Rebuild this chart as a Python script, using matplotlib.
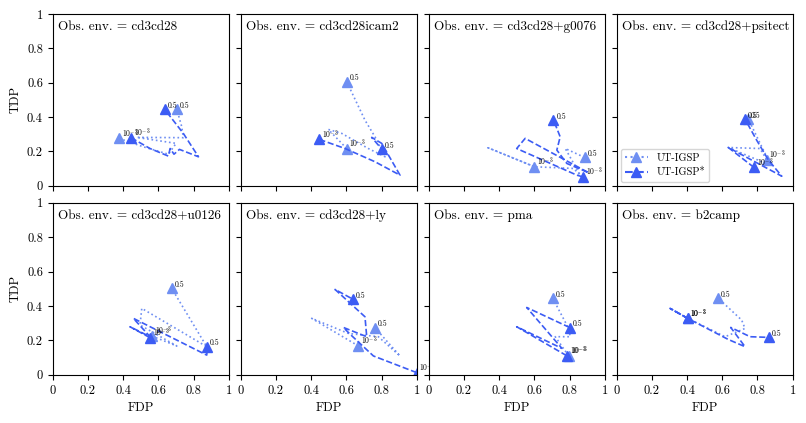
import matplotlib.pyplot as plt
import numpy as np

plt.rcParams['font.family'] = 'serif'
plt.rcParams['font.serif'] = ['cmr10', 'DejaVu Serif']
plt.rcParams['mathtext.fontset'] = 'cm'
plt.rcParams['axes.unicode_minus'] = False
plt.rcParams['axes.formatter.use_mathtext'] = True

envs = ['cd3cd28', 'cd3cd28icam2', 'cd3cd28+g0076', 'cd3cd28+psitect',
        'cd3cd28+u0126', 'cd3cd28+ly', 'pma', 'b2camp']

# UT-IGSP paths (alpha from 1e-3 to 0.5)
igsp_fdp = [
    [0.377, 0.515, 0.657, 0.701, 0.477, 0.742, 0.733, 0.705],
    [0.602, 0.498, 0.574, 0.725, 0.820, 0.763, 0.706, 0.602],
    [0.601, 0.338, 0.601, 0.823, 0.861, 0.776, 0.886],
    [0.852, 0.814, 0.634, 0.871, 0.852, 0.748],
    [0.563, 0.705, 0.496, 0.506, 0.875, 0.676],
    [0.669, 0.403, 0.612, 0.782, 0.905, 0.763],
    [0.795, 0.719, 0.804, 0.795, 0.705],
    [0.403, 0.303, 0.403, 0.616, 0.729, 0.710, 0.578],
]
igsp_tdp = [
    [0.276, 0.227, 0.184, 0.247, 0.282, 0.280, 0.344, 0.445],
    [0.217, 0.328, 0.305, 0.217, 0.169, 0.285, 0.382, 0.606],
    [0.111, 0.221, 0.111, 0.101, 0.062, 0.217, 0.165],
    [0.153, 0.217, 0.223, 0.120, 0.169, 0.388],
    [0.225, 0.167, 0.289, 0.386, 0.163, 0.502],
    [0.167, 0.328, 0.240, 0.221, 0.109, 0.273],
    [0.110, 0.221, 0.221, 0.269, 0.444],
    [0.328, 0.386, 0.328, 0.221, 0.269, 0.318, 0.444],
]

# UT-IGSP* paths
star_fdp = [
    [0.445, 0.553, 0.657, 0.667, 0.689, 0.720, 0.828, 0.742, 0.636],
    [0.447, 0.593, 0.763, 0.905, 0.801, 0.744, 0.801],
    [0.876, 0.842, 0.500, 0.548, 0.909, 0.785, 0.728, 0.747, 0.709],
    [0.780, 0.634, 0.938, 0.862, 0.795, 0.729],
    [0.553, 0.439, 0.553, 0.458, 0.875, 0.879],
    [1.000, 0.754, 0.621, 0.583, 0.716, 0.706, 0.536, 0.636],
    [0.785, 0.500, 0.757, 0.557, 0.804],
    [0.403, 0.303, 0.403, 0.634, 0.729, 0.648, 0.758, 0.867],
]
star_tdp = [
    [0.280, 0.217, 0.173, 0.217, 0.184, 0.212, 0.169, 0.305, 0.445],
    [0.270, 0.217, 0.140, 0.062, 0.247, 0.282, 0.214],
    [0.052, 0.062, 0.217, 0.276, 0.076, 0.130, 0.208, 0.285, 0.383],
    [0.107, 0.223, 0.056, 0.150, 0.266, 0.388],
    [0.215, 0.279, 0.221, 0.328, 0.114, 0.163],
    [0.012, 0.109, 0.236, 0.275, 0.221, 0.337, 0.496, 0.440],
    [0.110, 0.279, 0.153, 0.391, 0.273],
    [0.328, 0.386, 0.328, 0.205, 0.163, 0.275, 0.221, 0.217],
]

alpha_labels = ['$10^{-3}$', '0.5']
ticks = [0, 0.2, 0.4, 0.6, 0.8, 1]
tick_labels = ['0', '0.2', '0.4', '0.6', '0.8', '1']

c_igsp = '#6f8ff2'
c_star = '#3c5cf4'

fig, axes = plt.subplots(2, 4, figsize=(8.06, 4.23), dpi=100)
fig.subplots_adjust(left=0.0654, right=0.9835, top=0.967, bottom=0.1142,
                    wspace=0.068, hspace=0.099)

for i, ax in enumerate(axes.flat):
    for fx, ty, col, ls, name in [(igsp_fdp[i], igsp_tdp[i], c_igsp, ':', 'UT-IGSP'),
                                  (star_fdp[i], star_tdp[i], c_star, '--', 'UT-IGSP*')]:
        ax.plot(fx, ty, color=col, linestyle=ls, linewidth=1.2)
        ax.plot([fx[0], fx[-1]], [ty[0], ty[-1]], linestyle='none', marker='^',
                markersize=7.5, color=col)
        ax.plot([], [], color=col, linestyle=ls, marker='^', markersize=7.5, label=name)
        ax.annotate(alpha_labels[0], (fx[0], ty[0]), xytext=(2, 1),
                    textcoords='offset points', fontsize=5.5)
        ax.annotate(alpha_labels[1], (fx[-1], ty[-1]), xytext=(2, 1),
                    textcoords='offset points', fontsize=5.5)
    ax.set_xlim(0, 1)
    ax.set_ylim(0, 1)
    ax.set_xticks(ticks)
    ax.set_yticks(ticks)
    ax.tick_params(direction='out', length=3.5, labelsize=9)
    ax.text(0.03, 0.96, 'Obs. env. = ' + envs[i], transform=ax.transAxes,
            ha='left', va='top', fontsize=9.5)
    if i % 4 == 0:
        ax.set_yticklabels(tick_labels)
        ax.set_ylabel('TDP', fontsize=9)
    else:
        ax.set_yticklabels([])
    if i >= 4:
        ax.set_xticklabels(tick_labels)
        ax.set_xlabel('FDP', fontsize=9)
    else:
        ax.set_xticklabels([])

axes[0, 3].legend(loc='lower left', fontsize=7.5, handlelength=2.2,
                  borderaxespad=0.4, framealpha=0.8)

plt.savefig('out.png', dpi=100)
